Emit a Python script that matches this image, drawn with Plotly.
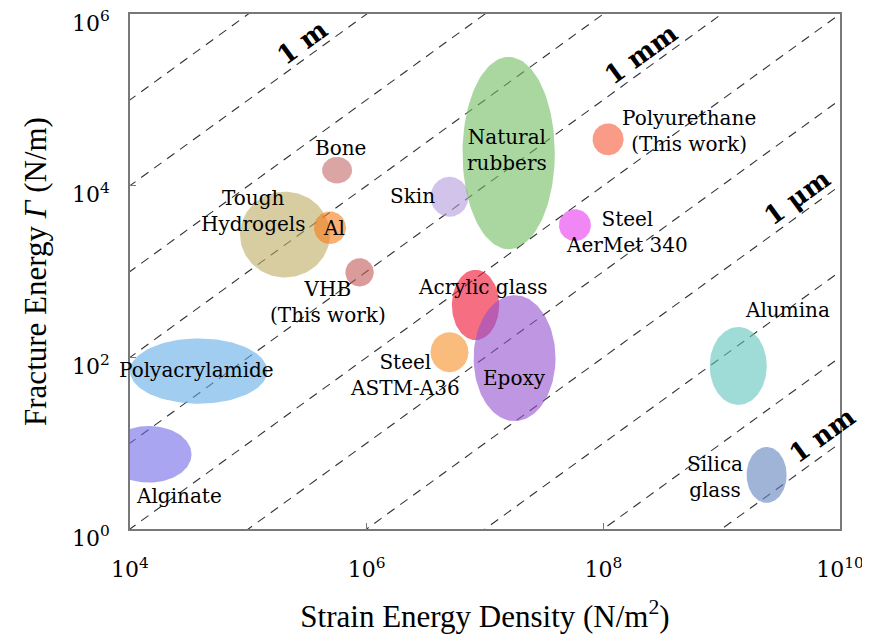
import numpy as np
import plotly.graph_objects as go

# ---------------- data (log10 units) ----------------
materials = ["Alginate", "Polyacrylamide", "Tough Hydrogels", "Al", "Bone", "VHB",
             "Skin", "Natural rubbers", "Polyurethane", "Steel AerMet 340",
             "Acrylic glass", "Epoxy", "Steel ASTM-A36", "Alumina", "Silica glass"]
log_w_center = [4.16, 4.58, 5.31, 5.69, 5.75, 5.94, 6.70, 7.20, 8.04, 7.76, 6.92, 7.25, 6.70, 9.14, 9.38]
log_g_center = [0.87, 1.84, 3.43, 3.51, 4.18, 2.99, 3.87, 4.38, 4.54, 3.54, 2.61, 1.99, 2.06, 1.90, 0.63]
log_w_half = [0.36, 0.58, 0.38, 0.135, 0.127, 0.12, 0.16, 0.39, 0.131, 0.135, 0.20, 0.346, 0.16, 0.241, 0.169]
log_g_half = [0.33, 0.38, 0.50, 0.19, 0.155, 0.165, 0.233, 1.12, 0.186, 0.186, 0.41, 0.734, 0.233, 0.454, 0.326]

# characteristic length lines  Gamma / W = L  (metres)
line_lengths = [1e1, 1e0, 1e-1, 1e-2, 1e-3, 1e-4, 1e-5, 1e-6, 1e-7, 1e-8, 1e-9]
length_labels = ["1 m", "1 mm", "1 μm", "1 nm"]

x_tickvals = [1e4, 1e6, 1e8, 1e10]
x_ticktext = ["10<sup>4</sup>", "10<sup>6</sup>", "10<sup>8</sup>", "10<sup>10</sup>"]
y_tickvals = [1e0, 1e2, 1e4, 1e6]
y_ticktext = ["10<sup>0</sup>", "10<sup>2</sup>", "10<sup>4</sup>", "10<sup>6</sup>"]

# ---------------- styles / positions ----------------
target_colors = [(170, 165, 240), (160, 205, 240), (215, 205, 160), (250, 175, 115),
                 (220, 165, 165), (218, 155, 155), (210, 195, 235), (170, 215, 160),
                 (250, 155, 135), (240, 135, 245), (245, 110, 130), (190, 150, 225),
                 (250, 188, 125), (160, 220, 215), (160, 180, 215)]
ALPHA = 0.6

label_text = ["Alginate", "Polyacrylamide", "Tough<br>Hydrogels", "Al", "Bone",
              "VHB<br>(This work)", "Skin", "Natural<br>rubbers",
              "Polyurethane<br>(This work)", "Steel<br>AerMet 340", "Acrylic glass",
              "Epoxy", "Steel<br>ASTM-A36", "Alumina", "Silica<br>glass"]
label_pos = [(4.41, 0.38), (4.56, 1.85), (5.04, 3.70), (5.72, 3.51), (5.78, 4.44),
             (5.67, 2.65), (6.39, 3.88), (7.19, 4.42), (8.72, 4.64), (8.20, 3.46),
             (6.98, 2.82), (7.25, 1.76), (6.32, 1.79), (9.56, 2.55), (8.94, 0.61)]
length_label_pos = [(5.46, 5.67), (8.32, 5.53), (9.64, 3.87), (9.85, 1.10)]

SERIF = "DejaVu Serif"
TITLE_FONT = "Liberation Serif"

fig = go.Figure()

# dashed characteristic-length lines
wx = np.array([1e3, 1e11])
for L in line_lengths:
    fig.add_trace(go.Scatter(x=wx, y=L * wx, mode="lines",
                             line=dict(color="rgb(50,50,50)", width=1.1, dash="9px,7px"),
                             hoverinfo="skip", showlegend=False))

# material ellipses (in log space)
theta = np.linspace(0, 2 * np.pi, 121)
for name, cx, cy, rx, ry, col in zip(materials, log_w_center, log_g_center,
                                     log_w_half, log_g_half, target_colors):
    src = tuple(max(0, round(255 - (255 - c) / ALPHA)) for c in col)
    fig.add_trace(go.Scatter(
        x=10 ** (cx + rx * np.cos(theta)), y=10 ** (cy + ry * np.sin(theta)),
        mode="lines", fill="toself",
        fillcolor=f"rgba({src[0]},{src[1]},{src[2]},{ALPHA})",
        line=dict(width=0), name=name, hoverinfo="name", showlegend=False))

annotations = []
for txt, (lx, ly) in zip(label_text, label_pos):
    annotations.append(dict(x=lx, y=ly, xref="x", yref="y", text=txt, showarrow=False,
                            font=dict(family=SERIF, size=20, color="black"),
                            align="center"))
for txt, (lx, ly) in zip(length_labels, length_label_pos):
    annotations.append(dict(x=lx, y=ly, xref="x", yref="y", text=f"<b>{txt}</b>",
                            showarrow=False, textangle=-36,
                            font=dict(family=SERIF, size=26, color="black")))

axis_common = dict(type="log", showgrid=False, zeroline=False, showline=True,
                   linecolor="rgb(120,120,120)", linewidth=1.5, mirror=True,
                   ticks="inside", ticklen=6, tickcolor="rgb(120,120,120)",
                   automargin=False, ticklabeloverflow="allow",
                   tickfont=dict(family=SERIF, size=22, color="black"))

# the page places the figure 8 px from its top-left corner, so the figure is
# sized 8 px smaller so the plot area lands where the reference has it
fig.update_layout(
    width=862, height=630,
    margin=dict(l=122, r=30, t=6, b=109),
    paper_bgcolor="white", plot_bgcolor="white",
    xaxis=dict(range=[4, 10], tickvals=x_tickvals, ticktext=x_ticktext,
               ticklabelstandoff=20,
               title=dict(text="Strain Energy Density (N/m<sup>2</sup>)",
                          font=dict(family=TITLE_FONT, size=31, color="black"),
                          standoff=24),
               **axis_common),
    yaxis=dict(range=[0, 6], tickvals=y_tickvals, ticktext=y_ticktext,
               ticklabelstandoff=14, ticklabelshift=9,
               title=dict(text="Fracture Energy <i>Γ</i> (N/m)",
                          font=dict(family=TITLE_FONT, size=31, color="black"),
                          standoff=16),
               **axis_common),
    annotations=annotations,
)

fig.write_html("out.html")
